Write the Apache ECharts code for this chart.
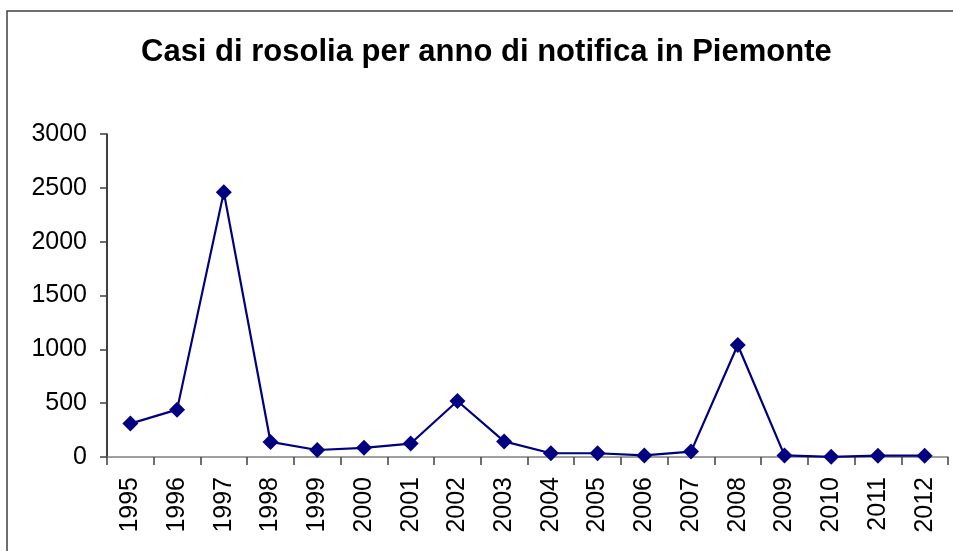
<!DOCTYPE html>
<html>
<head>
<meta charset="utf-8">
<script src="https://cdn.jsdelivr.net/npm/echarts@6/dist/echarts.min.js"></script>
<style>
  html, body { margin: 0; padding: 0; background: #fff; }
  #chart { width: 953px; height: 551px; }
</style>
</head>
<body>
<div id="chart"></div>
<script>
// anni di notifica
const years = ['1995', '1996', '1997', '1998', '1999', '2000', '2001', '2002', '2003',
  '2004', '2005', '2006', '2007', '2008', '2009', '2010', '2011', '2012']
// casi di rosolia
const cases = [310, 440, 2460, 140, 65, 85, 125, 520, 145, 35, 35, 15, 50, 1040, 15, 2, 12, 12]
const yTicks = [0, 500, 1000, 1500, 2000, 2500, 3000]

const chart = echarts.init(document.getElementById('chart'))
const option = {
  backgroundColor: '#ffffff',
  animation: false,
  title: {
    text: 'Casi di rosolia per anno di notifica in Piemonte',
    left: 136,
    top: 32,
    textStyle: {
      fontFamily: 'Liberation Sans',
      fontWeight: 'bold',
      fontSize: 31,
      color: '#000'
    }
  },
  graphic: [
    {
      type: 'rect',
      shape: { x: 7, y: 11, width: 1100, height: 700 },
      style: { fill: 'none', stroke: '#404040', lineWidth: 1.5 },
      silent: true
    }
  ],
  grid: {
    left: 107,
    right: 5,
    top: 134,
    bottom: 94,
    containLabel: false
  },
  xAxis: {
    type: 'category',
    data: years,
    boundaryGap: true,
    axisLine: { lineStyle: { color: '#808080', width: 1.5 } },
    axisTick: { show: true, length: 8, alignWithLabel: false, lineStyle: { color: '#404040', width: 1.5 } },
    axisLabel: {
      rotate: 90,
      margin: 20,
      interval: 0,
      fontFamily: 'Liberation Sans',
      fontSize: 25,
      color: '#000'
    },
    splitLine: { show: false }
  },
  yAxis: {
    type: 'value',
    min: yTicks[0],
    max: yTicks[yTicks.length - 1],
    interval: 500,
    axisLine: { show: true, lineStyle: { color: '#000', width: 1.5 } },
    axisTick: { show: true, length: 7, lineStyle: { color: '#404040', width: 1.5 } },
    axisLabel: {
      margin: 20,
      formatter: v => String(v),
      fontFamily: 'Liberation Sans',
      fontSize: 25,
      color: '#000'
    },
    splitLine: { show: false }
  },
  series: [
    {
      name: 'Casi',
      type: 'line',
      data: cases,
      symbol: 'diamond',
      symbolSize: 16,
      itemStyle: { color: '#000080' },
      lineStyle: { color: '#000080', width: 2.2 }
    }
  ]
}
chart.setOption(option)
</script>
</body>
</html>
